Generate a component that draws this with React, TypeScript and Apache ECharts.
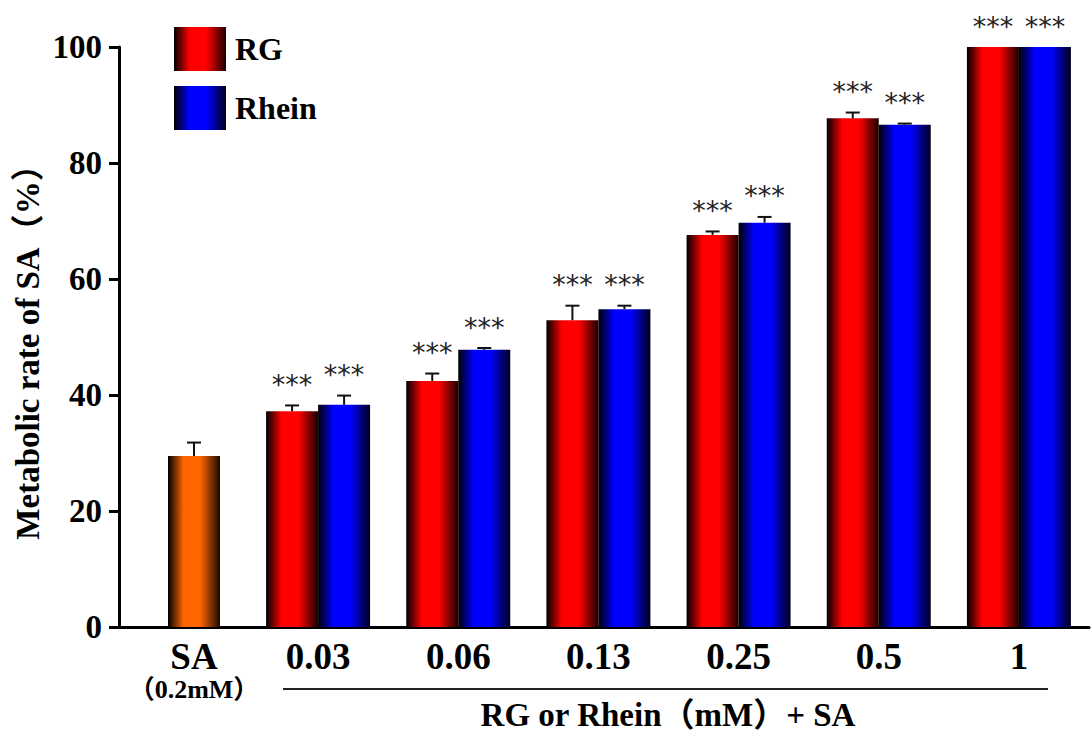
import React, { useEffect, useRef } from 'react';
import * as echarts from 'echarts';

const SERIF = "'Liberation Serif', 'Times New Roman', 'Noto Sans CJK SC', serif";
const STAR_FONT = "'DejaVu Sans', sans-serif";

// Control group (substrate only)
const controlCategories = ['SA'];
const controlNote = '（0.2mM）';
const controlMean = [29.5];
const controlErr = [2.3];

// Inhibitor concentrations (mM), each combined with SA
const doses = ['0.03', '0.06', '0.13', '0.25', '0.5', '1'];
const rgMean = [37.2, 42.4, 52.9, 67.6, 87.7, 100];
const rgErr = [1.0, 1.3, 2.5, 0.6, 1.0, 0];
const rgSig = ['***', '***', '***', '***', '***', '***'];
const rheinMean = [38.3, 47.8, 54.8, 69.7, 86.6, 100];
const rheinErr = [1.6, 0.3, 0.6, 1.0, 0.2, 0];
const rheinSig = ['***', '***', '***', '***', '***', '***'];

const yTicks = [0, 20, 40, 60, 80, 100];

const BAR_W = 52;

function shade(color: string, edge: string) {
  return new echarts.graphic.LinearGradient(0, 0, 1, 0, [
    { offset: 0, color: '#000000' },
    { offset: 0.3, color },
    { offset: 0.62, color },
    { offset: 1, color: edge },
  ]);
}

// Upper error whisker with cap, plus significance marks above it
function errorBars(offset: number) {
  return (params: any, api: any) => {
    const idx = api.value(0);
    const mean = api.value(1);
    const err = api.value(2);
    const sig = api.value(3);
    const base = api.coord([idx, mean]);
    const top = api.coord([idx, mean + err]);
    const cx = base[0] + offset;
    const children: any[] = [];
    if (err > 0) {
      children.push({
        type: 'line',
        shape: { x1: cx, y1: base[1], x2: cx, y2: top[1] },
        style: { stroke: '#111', lineWidth: 2 },
      });
      children.push({
        type: 'line',
        shape: { x1: cx - 7, y1: top[1], x2: cx + 7, y2: top[1] },
        style: { stroke: '#111', lineWidth: 2 },
      });
    }
    if (sig && sig !== '-') {
      children.push({
        type: 'text',
        style: {
          text: String(sig),
          x: cx,
          y: top[1] - 21,
          align: 'center',
          verticalAlign: 'middle',
          fill: '#222',
          fontSize: 27,
          fontFamily: STAR_FONT,
        },
      });
    }
    return { type: 'group', children };
  };
}

export default function App() {
  const ref = useRef<HTMLDivElement>(null);

  useEffect(() => {
    if (!ref.current) return;
    const chart = echarts.init(ref.current, undefined, { renderer: 'svg' });

    const axisLine = { show: true, lineStyle: { color: '#000', width: 3 } };

    chart.setOption({
      animation: false,
      backgroundColor: '#ffffff',
      grid: [
        { left: 119, top: 47, width: 150, bottom: 109, outerBoundsMode: 'none' },
        { left: 248, top: 47, right: 2, bottom: 109, outerBoundsMode: 'none' },
      ],
      legend: {
        data: ['RG', 'Rhein'],
        orient: 'vertical',
        left: 174,
        top: 27,
        padding: 0,
        itemWidth: 52,
        itemHeight: 44,
        itemGap: 15,
        icon: 'rect',
        textStyle: {
          fontFamily: SERIF,
          fontWeight: 'bold',
          fontSize: 32,
          color: '#000',
          padding: [0, 0, 0, 4],
        },
      },
      xAxis: [
        {
          type: 'category',
          gridIndex: 0,
          data: controlCategories,
          axisLine,
          axisTick: { show: false },
          axisLabel: {
            margin: 11,
            interval: 0,
            formatter: (v: string) => `{a|${v}}\n{b|${controlNote}}`,
            rich: {
              a: { fontFamily: SERIF, fontWeight: 'bold', fontSize: 37, color: '#000', lineHeight: 36 },
              b: { fontFamily: SERIF, fontWeight: 'bold', fontSize: 26, color: '#000', lineHeight: 30 },
            },
          },
        },
        {
          type: 'category',
          gridIndex: 1,
          data: doses,
          axisLine,
          axisTick: { show: false },
          axisLabel: {
            margin: 11,
            interval: 0,
            fontFamily: SERIF,
            fontWeight: 'bold',
            fontSize: 37,
            color: '#000',
            lineHeight: 36,
          },
        },
      ],
      yAxis: [
        {
          type: 'value',
          gridIndex: 0,
          min: 0,
          max: 100,
          interval: 20,
          axisLine,
          axisTick: { show: true, length: 10, lineStyle: { color: '#000', width: 3 } },
          splitLine: { show: false },
          axisLabel: {
            margin: 17,
            fontFamily: SERIF,
            fontWeight: 'bold',
            fontSize: 33,
            color: '#000',
            formatter: (v: number) => (yTicks.includes(v) ? String(v) : ''),
          },
        },
        {
          type: 'value',
          gridIndex: 1,
          min: 0,
          max: 100,
          interval: 20,
          show: false,
          splitLine: { show: false },
        },
      ],
      series: [
        {
          name: 'SA',
          type: 'bar',
          xAxisIndex: 0,
          yAxisIndex: 0,
          data: controlMean,
          barWidth: BAR_W,
          itemStyle: { color: shade('#ff6600', '#1a0800') },
        },
        {
          name: 'RG',
          type: 'bar',
          xAxisIndex: 1,
          yAxisIndex: 1,
          data: rgMean,
          barWidth: BAR_W,
          barGap: '0%',
          itemStyle: { color: shade('#ff0000', '#1a0000') },
        },
        {
          name: 'Rhein',
          type: 'bar',
          xAxisIndex: 1,
          yAxisIndex: 1,
          data: rheinMean,
          barWidth: BAR_W,
          barGap: '0%',
          itemStyle: { color: shade('#0000ff', '#00001a') },
        },
        {
          type: 'custom',
          xAxisIndex: 0,
          yAxisIndex: 0,
          clip: false,
          z: 5,
          renderItem: errorBars(0),
          data: controlMean.map((m, i) => [i, m, controlErr[i], '-']),
        },
        {
          type: 'custom',
          xAxisIndex: 1,
          yAxisIndex: 1,
          clip: false,
          z: 5,
          renderItem: errorBars(-BAR_W / 2),
          data: rgMean.map((m, i) => [i, m, rgErr[i], rgSig[i]]),
        },
        {
          type: 'custom',
          xAxisIndex: 1,
          yAxisIndex: 1,
          clip: false,
          z: 5,
          renderItem: errorBars(BAR_W / 2),
          data: rheinMean.map((m, i) => [i, m, rheinErr[i], rheinSig[i]]),
        },
      ],
      graphic: [
        {
          type: 'text',
          x: 28,
          y: 344,
          rotation: Math.PI / 2,
          style: {
            text: 'Metabolic rate of SA（%）',
            fontFamily: SERIF,
            fontWeight: 'bold',
            fontSize: 33,
            fill: '#000',
            align: 'center',
            verticalAlign: 'middle',
          },
        },
        {
          type: 'line',
          shape: { x1: 283, y1: 689, x2: 1048, y2: 689 },
          style: { stroke: '#222', lineWidth: 2 },
        },
        {
          type: 'text',
          x: 668,
          y: 715,
          style: {
            text: 'RG or Rhein（mM）+ SA',
            fontFamily: SERIF,
            fontWeight: 'bold',
            fontSize: 33,
            fill: '#000',
            align: 'center',
            verticalAlign: 'middle',
          },
        },
      ],
    });

    return () => chart.dispose();
  }, []);

  return (
    <div
      ref={ref}
      style={{ position: 'fixed', left: 0, top: 0, width: 1091, height: 736 }}
    />
  );
}
